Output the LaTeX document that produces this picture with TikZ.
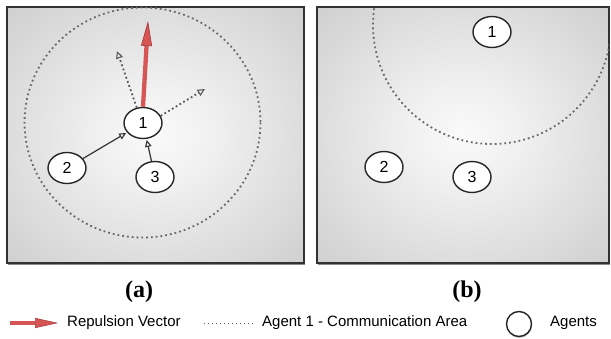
\documentclass[tikz,border=0pt]{standalone}
\usepackage{fontspec}
\setmainfont{Liberation Serif}
\setsansfont{Liberation Sans}
\usetikzlibrary{arrows.meta,shapes.geometric,shadows}
\definecolor{redvec}{RGB}{214,86,86}
\definecolor{redline}{RGB}{165,55,55}
\definecolor{frame}{RGB}{50,50,50}
\definecolor{dotcol}{RGB}{105,105,105}
\pgfdeclareradialshading{panelshade}{\pgfpoint{0bp}{0bp}}{%
  color(0bp)=(white!98!black);
  color(10bp)=(white!94!black);
  color(50bp)=(white!74!black);
  color(72bp)=(white!66!black)}
\tikzset{
  panel/.style={draw=frame, line width=1.5pt, shading=panelshade,
    drop shadow={shadow xshift=1pt, shadow yshift=-1.5pt, opacity=0.45, fill=black}},
  agent/.style={ellipse, draw=black!85, line width=1.4pt, fill=white,
    minimum width=38pt, minimum height=31pt, inner sep=0pt,
    font=\sffamily\fontsize{16}{16}\selectfont},
  solidarr/.style={draw=black!80, line width=1.2pt,
    -{Triangle[open, length=7pt, width=6.5pt, line width=1.1pt]}, shorten >=1pt},
  dotarr/.style={draw=black!65, line width=1.8pt, dash pattern=on 1.8pt off 2.6pt,
    -{Triangle[open, length=7.5pt, width=7pt, line width=1.1pt, sep=0pt]}},
  repvec/.style={draw=redvec, line width=4.3pt,
    -{Triangle[length=25pt, width=11pt, fill=redvec, color=redline, line width=0.6pt]}},
  comm/.style={draw=dotcol, line width=1.8pt, dash pattern=on 1.8pt off 3pt},
  lbl/.style={font=\rmfamily\bfseries\fontsize{24}{24}\selectfont, inner sep=0pt},
  legtext/.style={font=\sffamily\fontsize{15}{15}\selectfont, inner sep=0pt, anchor=west}
}
\begin{document}
\begin{tikzpicture}[x=1pt, y=-1pt]
\useasboundingbox (0,0) rectangle (611,338);
% panels
\path[panel] (7,7) rectangle (304,263);
\path[panel] (317,7) rectangle (609,263);

% ---- panel (a)
\draw[comm] (142.5,122.5) ellipse [x radius=118, y radius=115];
\node[agent] (a1) at (143,123) {1};
\node[agent] (a2) at (67,168) {2};
\node[agent] (a3) at (155,177) {3};
\coordinate (tipA) at (148,21);
\coordinate (d1) at (117,51);
\coordinate (d2) at (205,89);
\draw[repvec] (a1.north) -- (tipA);
\draw[dotarr] (a1.112) -- (d1);
\draw[dotarr] (a1.22) -- (d2);
\draw[solidarr] (a2) -- (a1);
\draw[solidarr] (a3) -- (a1);

% ---- panel (b)
\begin{scope}
\clip (317,7) rectangle (609,263);
\draw[comm] (492,25) circle [radius=119];
\end{scope}
\node[agent] (b1) at (492,32) {1};
\node[agent] (b2) at (384,167) {2};
\node[agent] (b3) at (472,177) {3};

% ---- labels
\node[lbl] (la) at (139,292) {(a)};
\node[lbl] (lb) at (467,292) {(b)};

% ---- legend
\coordinate (r0) at (10,323);
\coordinate (r1) at (58,323);
\draw[draw=redvec, line width=4.5pt,
  -{Triangle[length=23pt, width=10pt, fill=redvec, color=redline, line width=0.5pt]}] (r0) -- (r1);
\node[legtext] (t1) at (67,323) {Repulsion Vector};
\coordinate (c0) at (204,323);
\coordinate (c1) at (254,323);
\draw[draw=dotcol, line width=1pt, dash pattern=on 1pt off 3pt] (c0) -- (c1);
\node[legtext] (t2) at (262,323) {Agent 1 - Communication Area};
\node[agent, minimum width=25pt, minimum height=25pt,
  drop shadow={shadow xshift=0.5pt, shadow yshift=-1.5pt, opacity=0.4}] (lg) at (519,324) {};
\node[legtext] (t3) at (550,323) {Agents};
\end{tikzpicture}
\end{document}
